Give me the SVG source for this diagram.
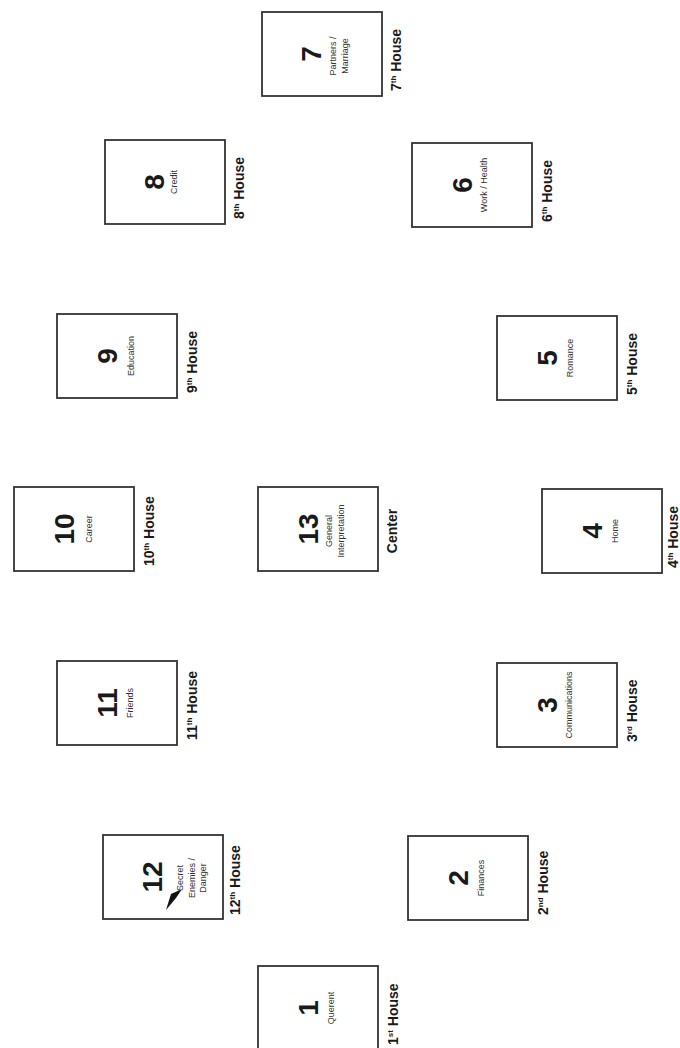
<svg xmlns="http://www.w3.org/2000/svg" width="680" height="1048" viewBox="0 0 680 1048">
<style>
.box{fill:#fff;stroke:#333;stroke-width:1.8}
.num{font-family:"Liberation Sans",Arial,sans-serif;font-weight:bold;font-size:28px;fill:#1a1a1a;text-anchor:middle}
.sub{font-family:"Liberation Sans",Arial,sans-serif;font-size:9px;fill:#333;text-anchor:middle}
.lab{font-family:"Liberation Sans",Arial,sans-serif;font-weight:bold;font-size:14px;fill:#1a1a1a}
.sup{font-size:8px}
</style>
<rect width="680" height="1048" fill="#fff"/>
<g id="connectors"></g>
<g id="card1">
<rect class="box" x="258" y="966" width="120" height="84"/>
<text class="num" transform="translate(318,1008) rotate(-90)">1</text>
<text class="sub" transform="translate(334,1008) rotate(-90)">Querent</text>
<text class="lab" transform="translate(398,1045) rotate(-90)">1<tspan class="sup" dy="-5">st</tspan><tspan dy="5"> House</tspan></text>
</g>
<g id="card2">
<rect class="box" x="408" y="836" width="120" height="84"/>
<text class="num" transform="translate(468,878) rotate(-90)">2</text>
<text class="sub" transform="translate(484,878) rotate(-90)">Finances</text>
<text class="lab" transform="translate(548,915) rotate(-90)">2<tspan class="sup" dy="-5">nd</tspan><tspan dy="5"> House</tspan></text>
</g>
<g id="card3">
<rect class="box" x="497" y="663" width="120" height="84"/>
<text class="num" transform="translate(557,705) rotate(-90)">3</text>
<text class="sub" transform="translate(572,705) rotate(-90)">Communications</text>
<text class="lab" transform="translate(637,742) rotate(-90)">3<tspan class="sup" dy="-5">rd</tspan><tspan dy="5"> House</tspan></text>
</g>
<g id="card4">
<rect class="box" x="542" y="489" width="120" height="84"/>
<text class="num" transform="translate(602,531) rotate(-90)">4</text>
<text class="sub" transform="translate(618,531) rotate(-90)">Home</text>
<text class="lab" transform="translate(678,568) rotate(-90)">4<tspan class="sup" dy="-5">th</tspan><tspan dy="5"> House</tspan></text>
</g>
<g id="card5">
<rect class="box" x="497" y="316" width="120" height="84"/>
<text class="num" transform="translate(557,358) rotate(-90)">5</text>
<text class="sub" transform="translate(573,358) rotate(-90)">Romance</text>
<text class="lab" transform="translate(637,395) rotate(-90)">5<tspan class="sup" dy="-5">th</tspan><tspan dy="5"> House</tspan></text>
</g>
<g id="card6">
<rect class="box" x="412" y="143" width="120" height="84"/>
<text class="num" transform="translate(472,185) rotate(-90)">6</text>
<text class="sub" transform="translate(487,185) rotate(-90)">Work / Health</text>
<text class="lab" transform="translate(552,222) rotate(-90)">6<tspan class="sup" dy="-5">th</tspan><tspan dy="5"> House</tspan></text>
</g>
<g id="card7">
<rect class="box" x="262" y="12" width="120" height="84"/>
<text class="num" transform="translate(321,54) rotate(-90)">7</text>
<text class="sub" transform="translate(322,56) rotate(-90)"><tspan x="0" y="14">Partners /</tspan><tspan x="0" y="26">Marriage</tspan></text>
<text class="lab" transform="translate(401,91) rotate(-90)">7<tspan class="sup" dy="-5">th</tspan><tspan dy="5"> House</tspan></text>
</g>
<g id="card8">
<rect class="box" x="105" y="140" width="120" height="84"/>
<text class="num" transform="translate(164,182) rotate(-90)">8</text>
<text class="sub" transform="translate(177,182) rotate(-90)">Credit</text>
<text class="lab" transform="translate(244,219) rotate(-90)">8<tspan class="sup" dy="-5">th</tspan><tspan dy="5"> House</tspan></text>
</g>
<g id="card9">
<rect class="box" x="57" y="314" width="120" height="84"/>
<text class="num" transform="translate(117,356) rotate(-90)">9</text>
<text class="sub" transform="translate(134,356) rotate(-90)">Education</text>
<text class="lab" transform="translate(197,393) rotate(-90)">9<tspan class="sup" dy="-5">th</tspan><tspan dy="5"> House</tspan></text>
</g>
<g id="card10">
<rect class="box" x="14" y="487" width="120" height="84"/>
<text class="num" transform="translate(74,529) rotate(-90)">10</text>
<text class="sub" transform="translate(92,529) rotate(-90)">Career</text>
<text class="lab" transform="translate(154,566) rotate(-90)">10<tspan class="sup" dy="-5">th</tspan><tspan dy="5"> House</tspan></text>
</g>
<g id="card11">
<rect class="box" x="57" y="661" width="120" height="84"/>
<text class="num" transform="translate(117,703) rotate(-90)">11</text>
<text class="sub" transform="translate(133,703) rotate(-90)">Friends</text>
<text class="lab" transform="translate(197,740) rotate(-90)">11<tspan class="sup" dy="-5">th</tspan><tspan dy="5"> House</tspan></text>
</g>
<g id="card12">
<rect class="box" x="103" y="835" width="120" height="84"/>
<text class="num" transform="translate(162,877) rotate(-90)">12</text>
<text class="sub" transform="translate(163,878) rotate(-90)"><tspan x="0" y="20">Secret</tspan><tspan x="0" y="32">Enemies /</tspan><tspan x="0" y="43">Danger</tspan></text>
<polygon points="166,910 171,894 182,889 176,898" fill="#111"/>
<text class="lab" transform="translate(240,915) rotate(-90)">12<tspan class="sup" dy="-5">th</tspan><tspan dy="5"> House</tspan></text>
</g>
<g id="card13">
<rect class="box" x="258" y="487" width="120" height="84"/>
<text class="num" transform="translate(318,529) rotate(-90)">13</text>
<text class="sub" transform="translate(318,531) rotate(-90)"><tspan x="0" y="14">General</tspan><tspan x="0" y="26">Interpretation</tspan></text>
<text class="lab" text-anchor="middle" transform="translate(397,531) rotate(-90)">Center</text>
</g>
</svg>
